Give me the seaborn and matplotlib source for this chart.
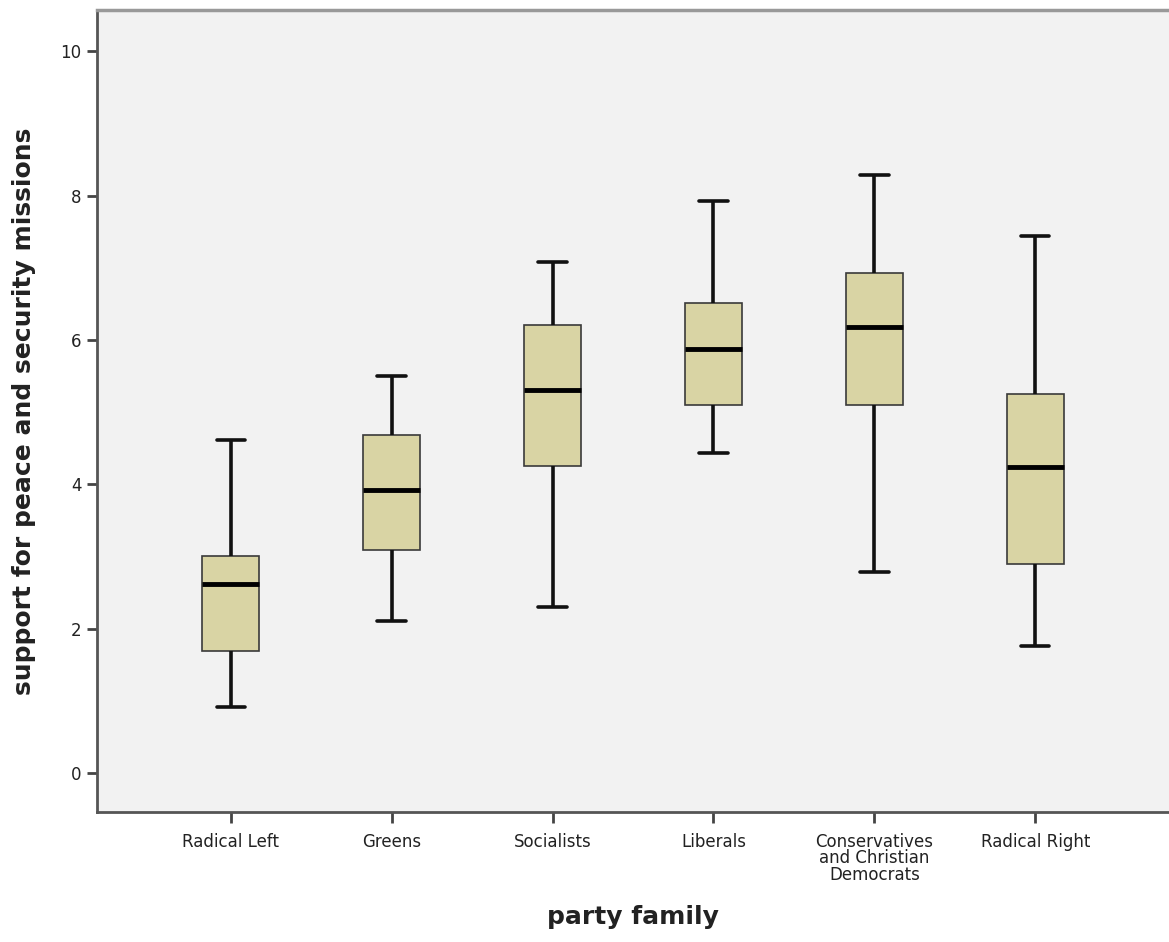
import numpy as np
import pandas as pd
import matplotlib
matplotlib.use("Agg")
import matplotlib.pyplot as plt
import seaborn as sns

# Party families and the five-number summary of each box
families = ["Radical Left", "Greens", "Socialists", "Liberals",
            "Conservatives\nand Christian\nDemocrats", "Radical Right"]
lower_whisker = [0.91, 2.10, 2.30, 4.43, 2.78, 1.76]
q1 = [1.69, 3.09, 4.25, 5.10, 5.10, 2.89]
median = [2.62, 3.92, 5.30, 5.87, 6.18, 4.24]
q3 = [3.01, 4.68, 6.20, 6.51, 6.93, 5.25]
upper_whisker = [4.61, 5.50, 7.08, 7.92, 8.28, 7.44]

rows = []
for i, fam in enumerate(families):
    for v in (lower_whisker[i], q1[i], median[i], q3[i], upper_whisker[i]):
        rows.append({"party family": fam, "support": v})
df = pd.DataFrame(rows)

sns.set_theme(style="ticks")
plt.rcParams["font.family"] = ["DejaVu Sans"]

fig = plt.figure(figsize=(11.69, 9.42), dpi=100)
ax = fig.add_axes([97 / 1169, 1 - 812 / 942, 1 - 97 / 1169, (812 - 10) / 942])
ax.set_facecolor("#f2f2f2")

sns.boxplot(
    data=df, x="party family", y="support", order=families,
    width=0.35, whis=np.inf, color="#d9d4a4", saturation=1,
    linecolor="#222222", linewidth=2.5, ax=ax,
    boxprops=dict(edgecolor="#3a3a3a", linewidth=1.2),
    medianprops=dict(color="black", linewidth=3.5),
    whiskerprops=dict(color="#111111", linewidth=2.6),
    capprops=dict(color="#111111", linewidth=2.6),
)

ax.set_xlim(-0.83, 5.83)
ax.set_ylim(-0.54, 10.57)
ax.set_yticks([0, 2, 4, 6, 8, 10])

for side in ("left", "bottom"):
    ax.spines[side].set_color("#555555")
    ax.spines[side].set_linewidth(2)
ax.spines["top"].set_color("#999999")
ax.spines["top"].set_linewidth(2.5)
ax.spines["right"].set_visible(False)

ax.tick_params(axis="both", colors="#444444", width=2, length=7,
               labelsize=12, labelcolor="#222222", pad=4)
ax.tick_params(axis="x", length=8, pad=7)
for lbl in ax.get_xticklabels():
    lbl.set_linespacing(0.9)

ax.set_xlabel("party family", fontsize=18, fontweight="bold",
              color="#222222", labelpad=15)
ax.set_ylabel("support for peace and security missions", fontsize=18,
              fontweight="bold", color="#222222", labelpad=18)

fig.savefig("out.png", dpi=100, facecolor="white")
